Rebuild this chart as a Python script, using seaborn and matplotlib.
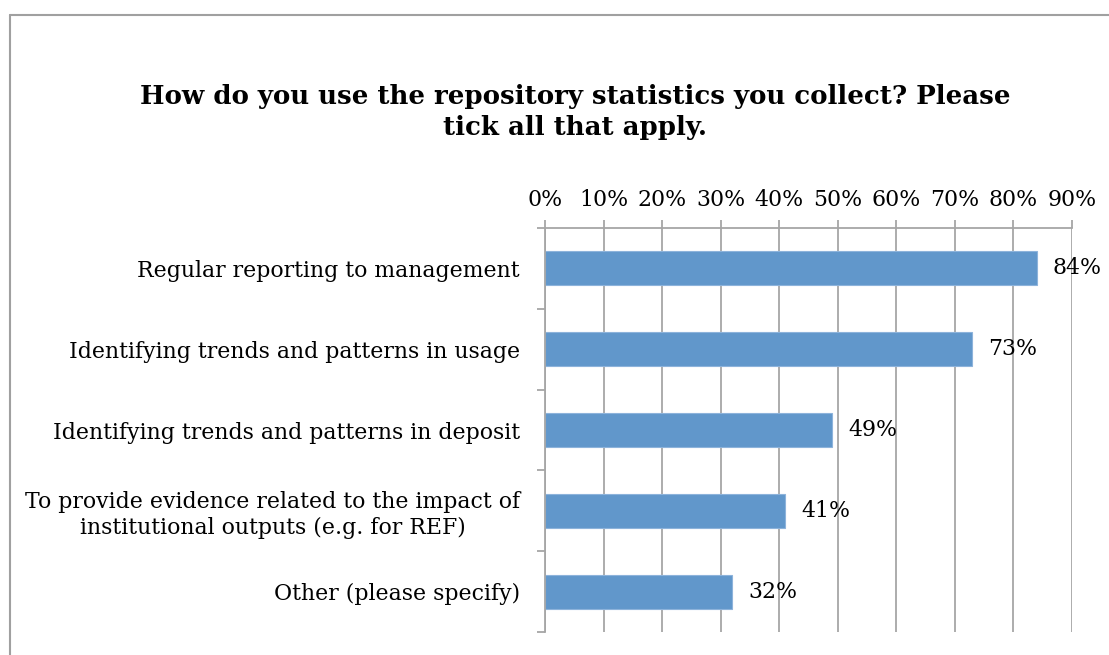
import matplotlib
matplotlib.use("Agg")
import matplotlib.pyplot as plt
import seaborn as sns
import pandas as pd
import numpy as np
from matplotlib.ticker import FixedLocator, PercentFormatter

categories = [
    "Regular reporting to management",
    "Identifying trends and patterns in usage",
    "Identifying trends and patterns in deposit",
    "To provide evidence related to the impact of\ninstitutional outputs (e.g. for REF)",
    "Other (please specify)",
]
values = [84, 73, 49, 41, 32]
value_labels = ["84%", "73%", "49%", "41%", "32%"]
x_ticks = [0, 10, 20, 30, 40, 50, 60, 70, 80, 90]

df = pd.DataFrame({"Use": categories, "Percent": values})

sns.set_style("white")
plt.rcParams["font.family"] = ["DejaVu Serif"]
plt.rcParams["text.color"] = "black"
plt.rcParams["xtick.color"] = "black"
plt.rcParams["ytick.color"] = "black"

grid_col = "#A6A6A6"
bar_col = "#6197CB"
fs = 15.8

fig = plt.figure(figsize=(11.09, 6.55), dpi=100)
ax = fig.add_axes([545 / 1109, 1 - 632 / 655, (1072 - 545) / 1109, (632 - 228) / 655])

sns.barplot(data=df, x="Percent", y="Use", orient="h", color=bar_col,
            width=0.42, saturation=1, edgecolor="#8DB3DB", linewidth=0.8, ax=ax)

ax.set_xlim(0, 90)
ax.set_ylim(4.5, -0.5)
ax.xaxis.set_major_locator(FixedLocator(x_ticks))
ax.xaxis.set_major_formatter(PercentFormatter(decimals=0))
ax.xaxis.tick_top()
ax.tick_params(axis="x", direction="out", length=6, width=1.3, color=grid_col,
               labelcolor="black", labelsize=fs, pad=6, top=True, bottom=False)
ax.set_axisbelow(True)
ax.grid(axis="x", color=grid_col, linewidth=1.3)
ax.grid(axis="y", visible=False)

ax.yaxis.set_minor_locator(FixedLocator(np.arange(-0.5, 5, 1)))
ax.tick_params(axis="y", which="minor", direction="out", length=6, width=1.3, color=grid_col, left=True)
ax.tick_params(axis="y", which="major", length=0, labelsize=fs, labelcolor="black", pad=18)
for lab in ax.get_yticklabels():
    lab.set_horizontalalignment("right")
    lab.set_multialignment("center")

for side in ["right", "bottom"]:
    ax.spines[side].set_visible(False)
for side in ["left", "top"]:
    ax.spines[side].set_color(grid_col)
    ax.spines[side].set_linewidth(1.3)

ax.set_xlabel("")
ax.set_ylabel("")

for i, (v, t) in enumerate(zip(values, value_labels)):
    ax.annotate(t, (v, i), xytext=(16, 0), textcoords="offset pixels",
                va="center", ha="left", fontsize=fs, color="black")

fig.text(575 / 1109, 1 - 112 / 655,
         "How do you use the repository statistics you collect? Please\ntick all that apply.",
         ha="center", va="center", fontsize=18.7, fontweight="bold", linespacing=1.3,
         color="black")

# outer chart frame
fig.add_artist(plt.Line2D([10 / 1109, 10 / 1109], [0, 1 - 15 / 655], transform=fig.transFigure,
                          color="#A0A0A0", linewidth=1.5))
fig.add_artist(plt.Line2D([10 / 1109, 1], [1 - 15 / 655, 1 - 15 / 655], transform=fig.transFigure,
                          color="#A0A0A0", linewidth=1.5))

fig.savefig("out.png", dpi=100)
